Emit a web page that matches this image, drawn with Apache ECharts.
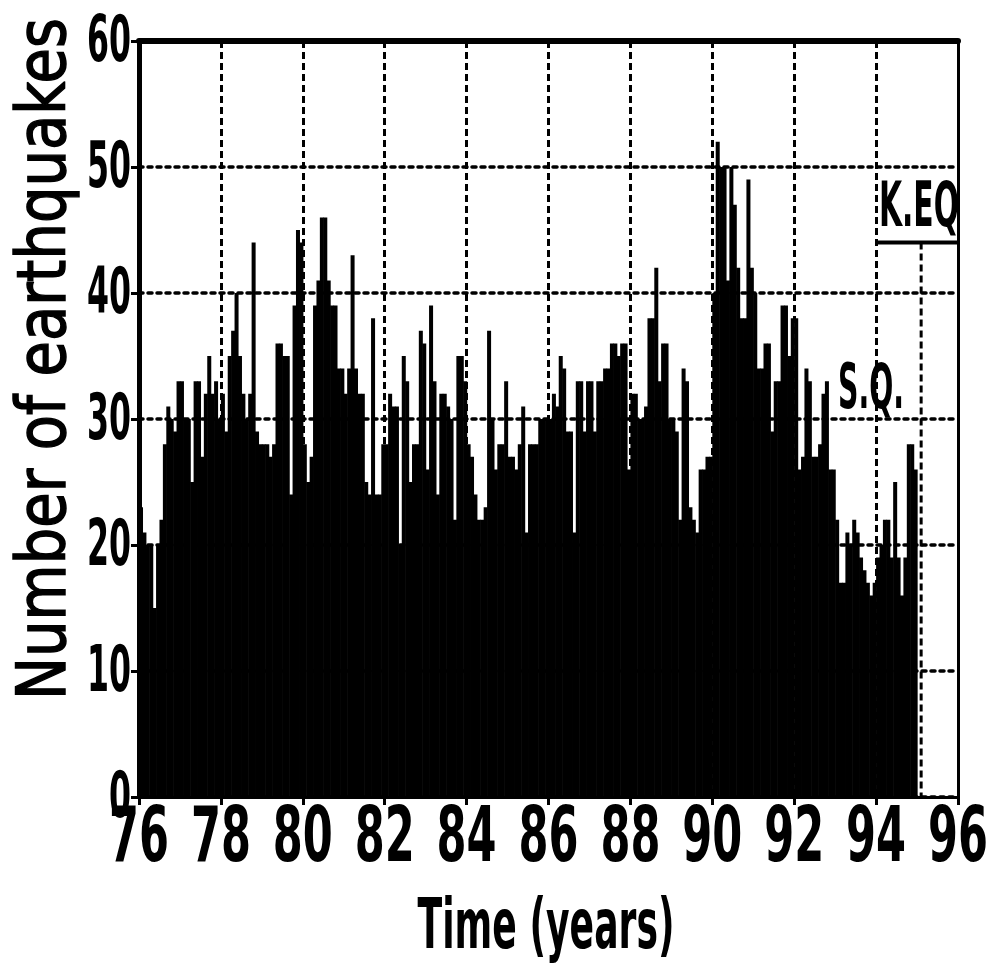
<!DOCTYPE html>
<html>
<head>
<meta charset="utf-8">
<script src="https://cdn.jsdelivr.net/npm/echarts@6/dist/echarts.min.js"></script>
<style>
html,body{margin:0;padding:0;background:#fff;}
#chart{width:988px;height:969px;}
</style>
</head>
<body>
<div id="chart"></div>
<script>
// ---- data: monthly number of earthquakes, one array per year (19xx) ----
const startYear = 76;
const binsPerYear = 12;
const y76 = [23, 21, 20, 20, 15, 20, 22, 28, 31, 30, 29, 33];
const y77 = [33, 30, 30, 25, 33, 33, 27, 32, 35, 32, 33, 30];
const y78 = [32, 29, 35, 37, 40, 35, 32, 30, 32, 44, 29, 28];
const y79 = [28, 28, 27, 28, 36, 36, 35, 35, 24, 39, 45, 44];
const y80 = [28, 25, 27, 39, 41, 46, 46, 41, 39, 39, 34, 34];
const y81 = [32, 34, 43, 34, 32, 32, 25, 24, 38, 24, 24, 28];
const y82 = [28, 32, 31, 31, 20, 35, 33, 25, 28, 28, 37, 36];
const y83 = [26, 39, 33, 24, 32, 32, 31, 30, 22, 35, 35, 33];
const y84 = [28, 27, 24, 22, 22, 23, 37, 30, 26, 28, 28, 33];
const y85 = [27, 27, 26, 28, 31, 21, 28, 28, 28, 30, 30, 30];
const y86 = [30, 32, 31, 35, 34, 29, 29, 21, 33, 33, 29, 33];
const y87 = [33, 29, 33, 33, 34, 34, 36, 36, 35, 36, 36, 26];
const y88 = [32, 32, 30, 30, 31, 38, 38, 42, 33, 36, 36, 30];
const y89 = [30, 29, 22, 34, 33, 23, 22, 21, 26, 26, 27, 27];
const y90 = [40, 52, 50, 50, 41, 50, 47, 42, 38, 38, 49, 42];
const y91 = [40, 34, 34, 36, 36, 29, 33, 33, 39, 39, 35, 38];
const y92 = [38, 26, 27, 34, 33, 27, 27, 28, 32, 33, 26, 26];
const y93 = [22, 17, 17, 21, 20, 22, 21, 19, 18, 17, 16, 17];
const y94 = [19, 20, 22, 22, 19, 25, 19, 16, 19, 28, 28, 26];

// axes and tick labels
const xMin = 76, xMax = 96, xStep = 2;
const yMin = 0, yMax = 60, yStep = 10;
const xTicks = [76, 78, 80, 82, 84, 86, 88, 90, 92, 94, 96];
const yTicks = [0, 10, 20, 30, 40, 50, 60];

// annotations (data coordinates)
const keqTime = 95.1;       // K.EQ marker
const keqLevel = 44;        // level of the K.EQ bar
const keqFrom = 94, keqTo = 96;
const labelKEQ = 'K.EQ';
const labelSQ = 'S.Q.';
const xTitle = 'Time (years)';
const yTitle = 'Number of earthquakes';

const counts = [].concat(y76, y77, y78, y79, y80, y81, y82, y83, y84, y85,
                         y86, y87, y88, y89, y90, y91, y92, y93, y94);
const histData = counts.map((v, i) => [startYear + i / binsPerYear, startYear + (i + 1) / binsPerYear, v]);

const chart = echarts.init(document.getElementById('chart'), null, {renderer: 'canvas'});

const measureCtx = document.createElement('canvas').getContext('2d');
function fitScale(text, font, target) {
  measureCtx.font = font;
  const w = measureCtx.measureText(text).width;
  return w > 0 ? target / w : 1;
}

function renderItem(params, api) {
  const top = api.coord([api.value(0), api.value(2)]);
  const base = api.coord([api.value(1), 0]);
  return {
    type: 'rect',
    shape: {x: top[0], y: top[1], width: base[0] - top[0] + 0.6, height: base[1] - top[1]},
    style: {fill: '#000'}
  };
}

const yTitleFont = "68px 'DejaVu Sans', sans-serif";
const xTitleFont = "bold 70px 'DejaVu Sans', sans-serif";
const annFont = "bold 62px 'DejaVu Sans', sans-serif";
const xLabFont = "bold 76px 'DejaVu Sans', sans-serif";
const yLabFont = "bold 64px 'DejaVu Sans', sans-serif";

const option = {
  animation: false,
  backgroundColor: '#fff',
  grid: {left: 139, right: 30, top: 41, bottom: 172, containLabel: false},
  xAxis: [{
    type: 'value', min: xMin, max: xMax, interval: xStep, position: 'bottom',
    axisLine: {show: true, onZero: false, lineStyle: {color: '#000', width: 3}},
    axisTick: {show: true, inside: false, length: 8, lineStyle: {color: '#000', width: 3}},
    axisLabel: {show: false},
    splitLine: {show: true, lineStyle: {color: '#000', width: 3, type: [7, 4]}}
  }, {
    type: 'value', min: xMin, max: xMax, interval: xStep, position: 'top',
    axisLine: {show: true, onZero: false, lineStyle: {color: '#000', width: 6}},
    axisTick: {show: false}, axisLabel: {show: false}, splitLine: {show: false}
  }],
  yAxis: [{
    type: 'value', min: yMin, max: yMax, interval: yStep, position: 'left',
    axisLine: {show: true, onZero: false, lineStyle: {color: '#000', width: 5}},
    axisTick: {show: true, inside: false, length: 8, lineStyle: {color: '#000', width: 3}},
    axisLabel: {show: false},
    splitLine: {show: true, lineStyle: {color: '#000', width: 3.5, type: [4, 5], cap: 'round'}}
  }, {
    type: 'value', min: yMin, max: yMax, interval: yStep, position: 'right',
    axisLine: {show: true, onZero: false, lineStyle: {color: '#000', width: 3}},
    axisTick: {show: false}, axisLabel: {show: false}, splitLine: {show: false}
  }],
  series: [{
    type: 'custom',
    renderItem: renderItem,
    data: histData,
    encode: {x: [0, 1], y: 2},
    clip: true,
    z: 3
  }, {
    type: 'line',
    data: [[keqFrom, keqLevel], [keqTo, keqLevel]],
    symbol: 'none',
    lineStyle: {color: '#000', width: 4},
    z: 4
  }, {
    type: 'line',
    data: [[keqTime, keqLevel], [keqTime, 0]],
    symbol: 'none',
    lineStyle: {color: '#000', width: 3, type: [7, 4]},
    z: 4
  }]
};
chart.setOption(option);

// narrow tick labels placed through the axes' own scales
const xLabScale = fitScale('76', xLabFont, 60);
const yLabScale = fitScale('60', yLabFont, 44);
const baseY = chart.convertToPixel({yAxisIndex: 0}, yMin);
const leftX = chart.convertToPixel({xAxisIndex: 0}, xMin);
const graphics = [];
xTicks.forEach(v => {
  graphics.push({
    type: 'text', x: chart.convertToPixel({xAxisIndex: 0}, v), y: baseY + 44,
    scaleX: xLabScale, scaleY: 1,
    style: {text: String(v), font: xLabFont, fill: '#000', align: 'center', verticalAlign: 'middle'}
  });
});
yTicks.forEach(v => {
  graphics.push({
    type: 'text', x: leftX - 8, y: chart.convertToPixel({yAxisIndex: 0}, v) + 3,
    scaleX: yLabScale, scaleY: 1,
    style: {text: String(v), font: yLabFont, fill: '#000', align: 'right', verticalAlign: 'middle'}
  });
});
graphics.push({
  type: 'text', x: 47, y: 359, rotation: Math.PI / 2,
  scaleX: fitScale(yTitle, yTitleFont, 682), scaleY: 1,
  style: {text: yTitle, font: yTitleFont, fill: '#000', align: 'center', verticalAlign: 'middle',
          stroke: '#000', lineWidth: 1.5}
}, {
  type: 'text', x: 546, y: 930,
  scaleX: fitScale(xTitle, xTitleFont, 257), scaleY: 1,
  style: {text: xTitle, font: xTitleFont, fill: '#000', align: 'center', verticalAlign: 'middle'}
}, {
  type: 'text', x: 919, y: 210,
  scaleX: fitScale(labelKEQ, annFont, 80), scaleY: 1,
  style: {text: labelKEQ, font: annFont, fill: '#000', align: 'center', verticalAlign: 'middle'}
}, {
  type: 'text', x: 871, y: 392,
  scaleX: fitScale(labelSQ, annFont, 66), scaleY: 1,
  style: {text: labelSQ, font: annFont, fill: '#000', align: 'center', verticalAlign: 'middle'}
});
chart.setOption({graphic: graphics});
</script>
</body>
</html>
